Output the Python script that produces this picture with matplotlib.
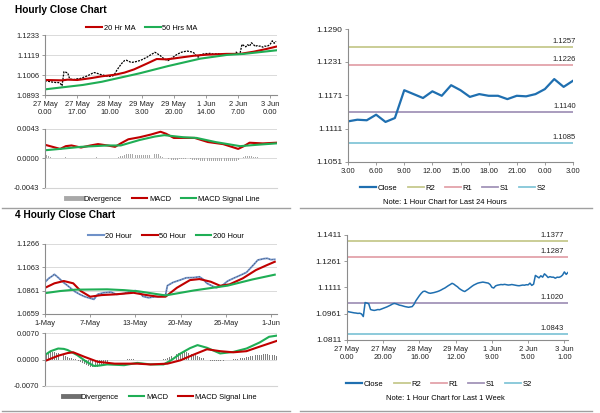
import matplotlib
matplotlib.use('Agg')
import matplotlib.pyplot as plt
from matplotlib.lines import Line2D

plt.rcParams['font.family'] = ['Liberation Sans', 'DejaVu Sans']

# ---------------- DATA ----------------
# hourly close, 27 May 0.00 .. 3 Jun 3.00 (123 points)
hourly_close = [
    1.0975, 1.0972, 1.0970, 1.0968, 1.0966, 1.0965, 1.0963, 1.0964, 1.0960,
    1.0945,
    1.1025, 1.1022, 1.1018, 1.0985, 1.0982, 1.0980, 1.0982, 1.0985, 1.0984, 1.0988,
    1.0992, 1.0996, 1.1000, 1.1005, 1.1010, 1.1016, 1.1020,
    1.1018, 1.1014, 1.1010, 1.1008, 1.1005, 1.1002, 1.1000, 1.0998, 1.1000, 1.1002,
    1.1015, 1.1035, 1.1050, 1.1065, 1.1078, 1.1088, 1.1090,
    1.1085, 1.1080, 1.1078, 1.1080, 1.1082, 1.1085, 1.1088,
    1.1092, 1.1097, 1.1103, 1.1108, 1.1115, 1.1122, 1.1128, 1.1135,
    1.1130, 1.1122, 1.1115, 1.1105, 1.1098, 1.1092, 1.1088,
    1.1095, 1.1102, 1.1110, 1.1118, 1.1125, 1.1130, 1.1135,
    1.1138, 1.1140, 1.1142, 1.1140, 1.1138, 1.1136, 1.1128,
    1.1112, 1.1108, 1.1120,
    1.1124, 1.1126, 1.1128, 1.1127, 1.1129, 1.1127, 1.1125, 1.1126, 1.1128, 1.1126,
    1.1124, 1.1122, 1.1121, 1.1123, 1.1125,
    1.1124, 1.1127, 1.1126, 1.1136, 1.1123, 1.1130, 1.1180, 1.1173, 1.1166, 1.1178,
    1.1170, 1.1189, 1.1180, 1.1168, 1.1173, 1.1170, 1.1170, 1.1164, 1.1170, 1.1169,
    1.1173, 1.1182, 1.1200, 1.1186, 1.1197,
]
ma20_x = [0, 9, 12, 17, 24, 30, 37, 42, 47, 54, 59, 64, 68, 72, 79, 86, 96, 103, 110, 117, 122]
ma20_y = [1.0978, 1.0976, 1.0980, 1.0978, 1.0988, 1.0999, 1.1008, 1.1020, 1.1038, 1.1072,
          1.1097, 1.1095, 1.1100, 1.1106, 1.1116, 1.1122, 1.1126, 1.1126, 1.1138, 1.1154, 1.1167]
ma50_x = [0, 20, 30, 50, 65, 82, 96, 105, 122]
ma50_y = [1.0925, 1.0950, 1.0968, 1.1016, 1.1057, 1.1099, 1.1120, 1.1126, 1.1146]
h_ticks_lbl = ["27 May\n0.00", "27 May\n17.00", "28 May\n10.00", "29 May\n3.00",
               "29 May\n20.00", "1 Jun\n14.00", "2 Jun\n7.00", "3 Jun\n0.00"]
h_price_ticks = [1.0893, 1.1006, 1.1119, 1.1233]

h_macd_x = [0, 4, 8, 11, 14, 19, 24, 28, 33, 37, 40, 44, 50, 56, 61, 64, 68, 75, 79, 86, 94, 102, 105, 108, 115, 122]
h_macd_y = [0.0020, 0.0017, 0.0014, 0.0018, 0.0019, 0.0016, 0.0019, 0.0021, 0.0019, 0.0017,
            0.0022, 0.0028, 0.0031, 0.0035, 0.0039, 0.0036, 0.0030, 0.0030, 0.0030, 0.0024,
            0.0021, 0.0014, 0.0018, 0.0023, 0.0022, 0.0023]
h_sig_x = [0, 8, 19, 33, 40, 50, 58, 63, 73, 80, 90, 103, 112, 122]
h_sig_y = [0.0012, 0.0014, 0.0017, 0.0019, 0.0019, 0.0027, 0.0032, 0.0034, 0.0031, 0.0030,
           0.0024, 0.0018, 0.0020, 0.0022]
h_div = [
    .0006, .0005, .0004, .0002,
    .0001, .0000, .0000, .0001, .0001,
    .0003, .0003, .0002, .0001, .0000, .0000,
    .0000, .0000, .0001, .0001, .0001, .0001, .0001, .0001, .0001, .0000,
    .0001, .0001, .0002, .0002, .0001, .0001, .0000, .0000,
    .0000, .0000, .0000, .0000, .0000, .0001, .0002, .0003,
    .0004, .0005, .0006, .0006, .0006, .0006, .0005, .0005, .0005, .0005, .0005,
    .0005, .0005, .0005, .0005, .0005, .0005, .0006, .0006, .0006, .0004, .0002,
    .0001, .0000, -.0001, -.0001, -.0002,
    -.0002, -.0002, -.0002, -.0001, -.0001, -.0001, -.0001, -.0001, -.0001, -.0001, -.0002, -.0002,
    -.0002, -.0002, -.0003, -.0003, -.0003, -.0003, -.0004, -.0004, -.0004, -.0004, -.0004, -.0004,
    -.0004, -.0004, -.0004, -.0004, -.0004, -.0004, -.0003, -.0003, -.0003, -.0003, -.0002, -.0001,
    .0001, .0002, .0003, .0003, .0003, .0003, .0002, .0002, .0002, .0001, .0001, .0001,
    .0000, .0000, .0000, .0000, .0000, .0001, .0001,
]
h_macd_ticks = [-0.0043, 0.0000, 0.0043]

# 4 hourly chart
f_close_x = [0, 2, 4, 5, 7, 10, 12, 14, 16, 19, 21, 23, 26, 28, 31, 35, 38, 40, 42, 45, 48, 50,
             52, 55, 58, 61, 64, 65, 68, 72, 75, 79, 82, 84, 86, 89, 91, 94, 97, 100, 104, 107,
             109, 111, 113, 116, 118, 120, 122]
f_close_y = [1.0935, 1.0968, 1.0990, 1.1003, 1.0975, 1.0930, 1.0905, 1.0878, 1.0852, 1.0825,
             1.0810, 1.0800, 1.0786, 1.0830, 1.0843, 1.0849, 1.0829, 1.0832, 1.0837, 1.0852,
             1.0862, 1.0850, 1.0812, 1.0800, 1.0808, 1.0812, 1.0823, 1.0905, 1.0933, 1.0955,
             1.0973, 1.0975, 1.0982, 1.0960, 1.0925, 1.0900, 1.0887, 1.0905, 1.0945, 1.0968,
             1.0997, 1.1020, 1.1055, 1.1090, 1.1127, 1.1138, 1.1142, 1.1130, 1.1133]
f_ma50_x = [0, 5, 10, 15, 19, 24, 30, 37, 47, 54, 60, 64, 70, 77, 82, 88, 93, 98, 105, 112, 118, 122]
f_ma50_y = [1.0886, 1.0925, 1.0945, 1.0925, 1.0858, 1.0809, 1.0823, 1.0829, 1.0843, 1.0823,
            1.0809, 1.0809, 1.0886, 1.0953, 1.0962, 1.0939, 1.0904, 1.0916, 1.0968, 1.1040,
            1.1084, 1.1112]
f_ma200_x = [0, 8, 16, 33, 42, 50, 56, 64, 79, 97, 110, 122]
f_ma200_y = [1.0840, 1.0858, 1.0870, 1.0873, 1.0866, 1.0855, 1.0840, 1.0820, 1.0863, 1.0905,
             1.0958, 1.1000]
f_ticks_lbl = ["1-May", "7-May", "13-May", "20-May", "26-May", "1-Jun"]
f_price_ticks = [1.0659, 1.0861, 1.1063, 1.1266]

f_macd_x = [0, 3, 7, 10, 12, 17, 22, 26, 29, 33, 42, 49, 56, 63, 67, 72, 77, 81, 86, 93, 100,
            107, 114, 119, 123]
f_macd_y = [0.0012, 0.0022, 0.0029, 0.0028, 0.0025, 0.0012, -0.0006, -0.0017, -0.0016, -0.0013,
            -0.0015, -0.0009, -0.0013, -0.0013, -0.0002, 0.0016, 0.0030, 0.0038, 0.0031, 0.0016,
            0.0020, 0.0029, 0.0045, 0.0060, 0.0063]
f_sig_x = [0, 7, 12, 15, 21, 28, 37, 49, 56, 65, 72, 79, 86, 93, 100, 107, 114, 123]
f_sig_y = [-0.0004, 0.0010, 0.0017, 0.0019, 0.0007, -0.0006, -0.0011, -0.0011, -0.0013, -0.0011,
           -0.0002, 0.0013, 0.0027, 0.0022, 0.0019, 0.0022, 0.0034, 0.0049]
f_div = [
    .0010, .0014, .0017, .0019, .0019, .0019, .0018, .0017,
    .0015, .0013, .0011, .0009, .0007, .0005, .0003, .0002, .0001,
    .0000, -.0003, -.0006, -.0009, -.0012, -.0015, -.0017, -.0019,
    -.0020, -.0021, -.0021, -.0020, -.0018, -.0015, -.0012, -.0009,
    -.0006, -.0004, -.0002, -.0001, .0000, -.0001, -.0001, -.0002,
    -.0002, -.0001, .0000, .0001, .0001, .0002, .0001, .0000, -.0001, -.0002, -.0002, -.0002,
    -.0002, -.0001, -.0001, .0000,
    .0000, .0000, -.0001, -.0001, .0000, .0000, .0001, .0002, .0004,
    .0006, .0009, .0011, .0013, .0015, .0017, .0018, .0019, .0019, .0019,
    .0018, .0017, .0015, .0013, .0011, .0009, .0007, .0005, .0003, .0002, .0000,
    -.0002, -.0003, -.0004, -.0005, -.0005, -.0005, -.0005, -.0004, -.0003, -.0002, -.0001,
    .0000, .0000, .0001, .0001, .0002, .0002, .0003, .0004,
    .0005, .0006, .0007, .0008, .0009, .0010, .0011, .0012,
    .0013, .0013, .0014, .0014, .0014, .0013, .0013, .0012, .0011, .0010,
]
f_macd_ticks = [-0.0070, 0.0000, 0.0070]

# right charts
day_hours_lbl = ["3.00", "6.00", "9.00", "12.00", "15.00", "18.00", "21.00", "0.00", "3.00"]
day_ticks = [1.1051, 1.1111, 1.1171, 1.1231, 1.1290]
day_levels = {"R2": 1.1257, "R1": 1.1226, "S1": 1.1140, "S2": 1.1085}
week_lbl = ["27 May\n0.00", "27 May\n20.00", "28 May\n16.00", "29 May\n12.00",
            "1 Jun\n9.00", "2 Jun\n5.00", "3 Jun\n1.00"]
week_ticks = [1.0811, 1.0961, 1.1111, 1.1261, 1.1411]
week_levels = {"R2": 1.1377, "R1": 1.1287, "S1": 1.1020, "S2": 1.0843}

# ---------------- STYLE ----------------
RED = '#c00000'
GREEN = '#1fae55'
BLUE_L = '#6f91c8'
CLOSE_B = '#1f6fb0'
LVL_C = {"R2": '#c6c98e', "R1": '#e3a3aa', "S1": '#a394b9', "S2": '#84c6d8'}
GRID = '#d4d4d4'
SPINE = '#8c8c8c'
FS_L = 5.4      # left charts
FS_RY = 6.0     # right charts y ticks
FS_R = 5.5      # right charts other text

W, H = 600, 413
fig = plt.figure(figsize=(6, 4.13), dpi=100)


def px_axes(l, t, r, b):
    return fig.add_axes([l / W, 1 - b / H, (r - l) / W, (b - t) / H])


def style(ax, fs_x, fs_y, grid=True):
    for s in ['top', 'right']:
        ax.spines[s].set_visible(False)
    for s in ['left', 'bottom']:
        ax.spines[s].set_color(SPINE)
        ax.spines[s].set_linewidth(0.8)
    ax.tick_params(length=2, width=0.6, pad=2, colors=SPINE, labelcolor='#222222')
    ax.tick_params(axis='x', labelsize=fs_x)
    ax.tick_params(axis='y', labelsize=fs_y)
    if grid:
        ax.yaxis.grid(True, color=GRID, lw=0.6)
        ax.set_axisbelow(True)


def fig_legend(handles, labels, cx, cy, fs):
    fig.legend(handles, labels, loc='center', bbox_to_anchor=(cx / W, 1 - cy / H), ncol=len(handles),
               frameon=False, fontsize=fs, handlelength=2.1, columnspacing=1.3,
               handletextpad=0.2, borderpad=0)


def fmt4(v):
    return f"{v:.4f}"

# ---------- Titles ----------
fig.text(15 / W, 1 - 10 / H, "Hourly Close Chart", fontsize=7.3, fontweight='bold', va='center')
fig.text(15 / W, 1 - 215 / H, "4 Hourly Close Chart", fontsize=7.3, fontweight='bold', va='center')

# ---------- Hourly price ----------
hx = list(range(len(hourly_close)))
ax1 = px_axes(45, 35, 277, 95)
style(ax1, FS_L, FS_L)
ax1.plot(hx, hourly_close, color='black', lw=0.9, ls=(0, (1.6, 0.9)))
ax1.plot(ma20_x, ma20_y, color=RED, lw=1.5)
ax1.plot(ma50_x, ma50_y, color=GREEN, lw=1.5)
ax1.set_xlim(0, 122.5)
ax1.set_ylim(h_price_ticks[0], h_price_ticks[-1])
ax1.set_yticks(h_price_ticks)
ax1.set_yticklabels([fmt4(v) for v in h_price_ticks])
ax1.set_xticks(range(0, 17 * len(h_ticks_lbl), 17))
ax1.set_xticklabels(h_ticks_lbl, linespacing=1.2)
fig_legend([Line2D([], [], color=RED, lw=1.5), Line2D([], [], color=GREEN, lw=1.5)],
           ["20 Hr MA", "50 Hrs MA"], 142, 28, FS_L)

# ---------- Hourly MACD ----------
ax2 = px_axes(45, 129, 277, 188)
style(ax2, FS_L, FS_L)
ax2.bar(range(len(h_div)), h_div, width=0.45, color='#a8a8a8')
ax2.plot(h_macd_x, h_macd_y, color=RED, lw=1.5)
ax2.plot(h_sig_x, h_sig_y, color=GREEN, lw=1.5)
ax2.set_xlim(0, 122.5)
ax2.set_ylim(h_macd_ticks[0], h_macd_ticks[-1])
ax2.set_yticks(h_macd_ticks)
ax2.set_yticklabels([fmt4(v) for v in h_macd_ticks])
ax2.set_xticks([])
ax2.spines['bottom'].set_color(GRID)
fig_legend([Line2D([], [], color='#a8a8a8', lw=3.5), Line2D([], [], color=RED, lw=1.5),
            Line2D([], [], color=GREEN, lw=1.5)],
           ["Divergence", "MACD", "MACD Signal Line"], 163, 199, FS_L)

# ---------- 4 Hourly price ----------
ax3 = px_axes(45, 244, 277, 314)
style(ax3, FS_L, FS_L)
ax3.plot(f_close_x, f_close_y, color=BLUE_L, lw=1.3)
ax3.plot(f_close_x, f_close_y, color='#333333', lw=0.5, ls=(0, (1, 3)))
ax3.plot(f_ma50_x, f_ma50_y, color=RED, lw=1.5)
ax3.plot(f_ma200_x, f_ma200_y, color=GREEN, lw=1.5)
ax3.set_xlim(0, 123.2)
ax3.set_ylim(f_price_ticks[0], f_price_ticks[-1])
ax3.set_yticks(f_price_ticks)
ax3.set_yticklabels([fmt4(v) for v in f_price_ticks])
ax3.set_xticks(range(0, 24 * len(f_ticks_lbl), 24))
ax3.set_xticklabels(f_ticks_lbl)
fig_legend([Line2D([], [], color=BLUE_L, lw=1.5), Line2D([], [], color=RED, lw=1.5),
            Line2D([], [], color=GREEN, lw=1.5)],
           ["20 Hour", "50 Hour", "200 Hour"], 166, 236, FS_L)

# ---------- 4 Hourly MACD ----------
ax4 = px_axes(45, 333, 277, 386)
style(ax4, FS_L, FS_L)
ax4.bar(range(len(f_div)), f_div, width=0.45, color='#7f7f7f')
ax4.plot(f_macd_x, f_macd_y, color=GREEN, lw=1.5)
ax4.plot(f_sig_x, f_sig_y, color=RED, lw=1.5)
ax4.set_xlim(0, 123.2)
ax4.set_ylim(f_macd_ticks[0], f_macd_ticks[-1])
ax4.set_yticks(f_macd_ticks)
ax4.set_yticklabels([fmt4(v) for v in f_macd_ticks])
ax4.set_xticks([])
ax4.spines['bottom'].set_color(GRID)
fig_legend([Line2D([], [], color='#6f6f6f', lw=3.5), Line2D([], [], color=GREEN, lw=1.5),
            Line2D([], [], color=RED, lw=1.5)],
           ["Divergence", "MACD", "MACD Signal Line"], 160, 397, FS_L)


# ---------- Right charts ----------
def level_chart(ax, xs, ys, levels, ticks, xlim, txt_dx, lw):
    style(ax, FS_R, FS_RY, grid=False)
    for name, v in levels.items():
        ax.axhline(v, color=LVL_C[name], lw=1.3)
        ax.annotate(fmt4(v), xy=(1.0, v), xycoords=('axes fraction', 'data'),
                    xytext=(txt_dx, 1.5), textcoords='offset points', ha='right', va='bottom',
                    fontsize=FS_R, color='#222222')
    ax.plot(xs, ys, color=CLOSE_B, lw=lw)
    ax.set_xlim(*xlim)
    ax.set_ylim(ticks[0], ticks[-1])
    ax.set_yticks(ticks)
    ax.set_yticklabels([fmt4(v) for v in ticks])


day_close = hourly_close[-25:]
ax5 = px_axes(348, 29, 573, 162)
level_chart(ax5, range(len(day_close)), day_close, day_levels, day_ticks, (0, 24), 2, 1.6)
ax5.set_xticks(range(0, 3 * len(day_hours_lbl), 3))
ax5.set_xticklabels(day_hours_lbl)

ax6 = px_axes(347, 235, 568, 340)
level_chart(ax6, hx, hourly_close, week_levels, week_ticks, (0, 122), -3, 1.1)
ax6.set_xticks(range(0, 20 * len(week_lbl), 20))
ax6.set_xticklabels(week_lbl, linespacing=1.2)

lvl_handles = [Line2D([], [], color=CLOSE_B, lw=1.6)] + \
              [Line2D([], [], color=LVL_C[k], lw=1.3) for k in ["R2", "R1", "S1", "S2"]]
lvl_labels = ["Close", "R2", "R1", "S1", "S2"]
fig_legend(lvl_handles, lvl_labels, 453, 188, FS_R)
fig_legend(lvl_handles, lvl_labels, 439, 384, FS_R)

fig.text(445 / W, 1 - 202 / H, "Note: 1 Hour Chart for Last 24 Hours", ha='center', va='center', fontsize=5.4)
fig.text(445 / W, 1 - 399 / H, "Note: 1 Hour Chart for Last 1 Week", ha='center', va='center', fontsize=5.4)

# ---------- separators ----------
for yy in (208, 411):
    fig.add_artist(Line2D([2 / W, 290 / W], [1 - yy / H] * 2, color='#a0a0a0', lw=1.0))
    fig.add_artist(Line2D([300 / W, 592 / W], [1 - yy / H] * 2, color='#a0a0a0', lw=1.0))

fig.savefig('out.png', dpi=100)
